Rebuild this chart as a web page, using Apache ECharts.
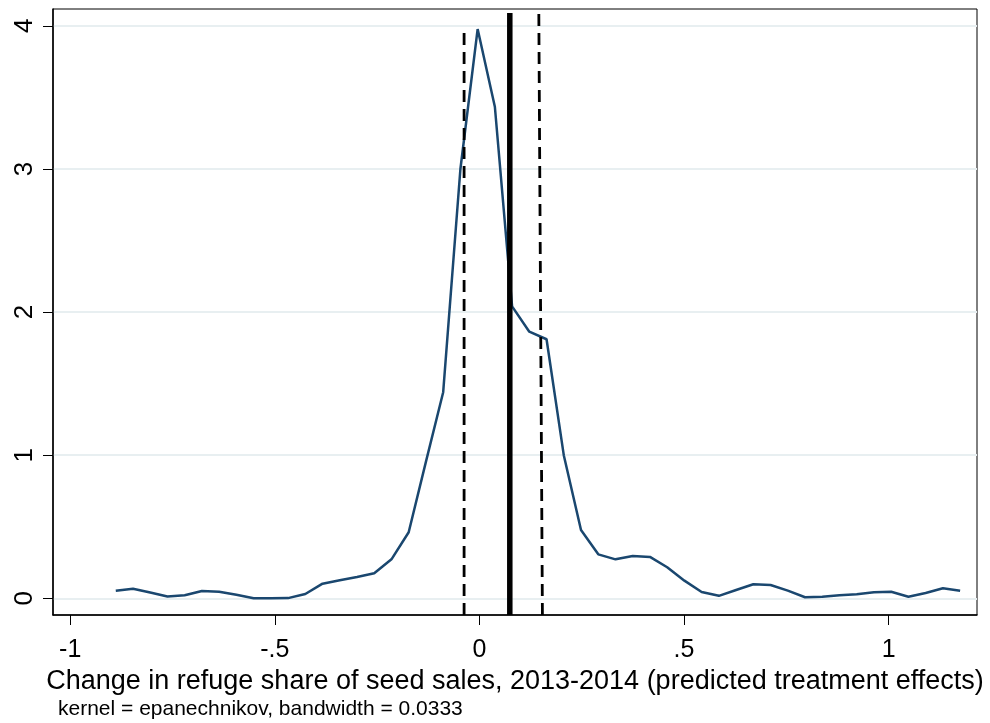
<!DOCTYPE html>
<html>
<head>
<meta charset="utf-8">
<script src="https://cdn.jsdelivr.net/npm/echarts@6/dist/echarts.min.js"></script>
<style>
html,body{margin:0;padding:0;background:#fff;}
#chart{width:990px;height:723px;}
</style>
</head>
<body>
<div id="chart"></div>
<script>
// Kernel density estimate: evaluation points and density values
var xPoints = [-0.8886,-0.8465,-0.8044,-0.7623,-0.7202,-0.6781,-0.6360,-0.5939,-0.5517,-0.5096,
  -0.4675,-0.4254,-0.3833,-0.3412,-0.2991,-0.2570,-0.2149,-0.1728,-0.1306,-0.0885,
  -0.0464,-0.0043,0.0378,0.0799,0.1220,0.1641,0.2062,0.2483,0.2905,0.3326,
  0.3747,0.4168,0.4589,0.5010,0.5431,0.5852,0.6273,0.6694,0.7116,0.7537,
  0.7958,0.8379,0.8800,0.9221,0.9642,1.0063,1.0484,1.0905,1.1327,1.1748];
var density = [0.053,0.067,0.040,0.012,0.021,0.051,0.046,0.025,0.000,0.000,
  0.001,0.030,0.102,0.126,0.149,0.175,0.272,0.461,0.955,1.440,
  3.000,3.978,3.435,2.040,1.863,1.810,1.000,0.477,0.307,0.272,
  0.296,0.289,0.217,0.123,0.044,0.017,0.058,0.098,0.093,0.053,
  0.007,0.011,0.021,0.028,0.042,0.046,0.011,0.037,0.070,0.053];

// Reference lines: [x at bottom, x at top, top y]
var lowerBound = [-0.0374, -0.0374, 4.00];
var pointEst   = [0.0743, 0.0743, 4.09];
var upperBound = [0.1540, 0.1452, 4.10];

var xTicks = [-1, -0.5, 0, 0.5, 1];
var xTickLabels = ['-1', '-.5', '0', '.5', '1'];
var yTicks = [0, 1, 2, 3, 4];
var yTickLabels = ['0', '1', '2', '3', '4'];

var xTitle = 'Change in refuge share of seed sales, 2013-2014 (predicted treatment effects)';
var note = 'kernel = epanechnikov, bandwidth = 0.0333';

var X_MIN = -1.042, X_MAX = 1.216, Y_MIN = -0.117, Y_MAX = 4.118;
var FONT = '"Liberation Sans", Arial, sans-serif';

var curve = xPoints.map(function (x, i) { return [x, density[i]]; });
function vline(v) { return [[v[0], Y_MIN], [v[1], v[2]]]; }

var chart = echarts.init(document.getElementById('chart'), null, {renderer: 'canvas'});
chart.setOption({
  backgroundColor: '#ffffff',
  animation: false,
  title: {
    text: note,
    left: 53, top: 694,
    textStyle: {fontFamily: FONT, fontSize: 21, fontWeight: 'normal', color: '#000'}
  },
  grid: {
    left: 53, top: 9, right: 13, bottom: 108,
    show: true, borderColor: '#000', borderWidth: 1, backgroundColor: '#fff'
  },
  xAxis: {
    type: 'value', min: X_MIN, max: X_MAX,
    name: xTitle, nameLocation: 'middle', nameGap: 40,
    nameTextStyle: {fontFamily: FONT, fontSize: 27, color: '#000'},
    axisLine: {show: true, onZero: false, lineStyle: {color: '#000', width: 1.5}},
    axisTick: {show: true, length: 10, customValues: xTicks, lineStyle: {color: '#000', width: 1}},
    axisLabel: {
      customValues: xTicks, margin: 23,
      fontFamily: FONT, fontSize: 25, color: '#000',
      formatter: function (v) { var i = xTicks.indexOf(v); return i >= 0 ? xTickLabels[i] : ''; }
    },
    splitLine: {show: false}
  },
  yAxis: {
    type: 'value', min: Y_MIN, max: Y_MAX,
    axisLine: {show: true, onZero: false, lineStyle: {color: '#000', width: 1.5}},
    axisTick: {show: true, length: 10, customValues: yTicks, lineStyle: {color: '#000', width: 1}},
    axisLabel: {
      customValues: yTicks, rotate: 90, margin: 15,
      fontFamily: FONT, fontSize: 26, color: '#000',
      formatter: function (v) { var i = yTicks.indexOf(v); return i >= 0 ? yTickLabels[i] : ''; }
    },
    splitLine: {show: true, lineStyle: {color: '#e8eff1', width: 2}}
  },
  series: [
    {
      type: 'line', data: curve, showSymbol: false, symbol: 'none',
      lineStyle: {color: '#1a476f', width: 2.5}, z: 2
    },
    {
      type: 'line', data: vline(lowerBound), showSymbol: false, symbol: 'none',
      lineStyle: {color: '#000', width: 2.8, type: [12, 7]}, z: 3
    },
    {
      type: 'line', data: vline(upperBound), showSymbol: false, symbol: 'none',
      lineStyle: {color: '#000', width: 2.8, type: [12, 7]}, z: 3
    },
    {
      type: 'line', data: vline(pointEst), showSymbol: false, symbol: 'none',
      lineStyle: {color: '#000', width: 5.5}, z: 3
    }
  ]
});
</script>
</body>
</html>
